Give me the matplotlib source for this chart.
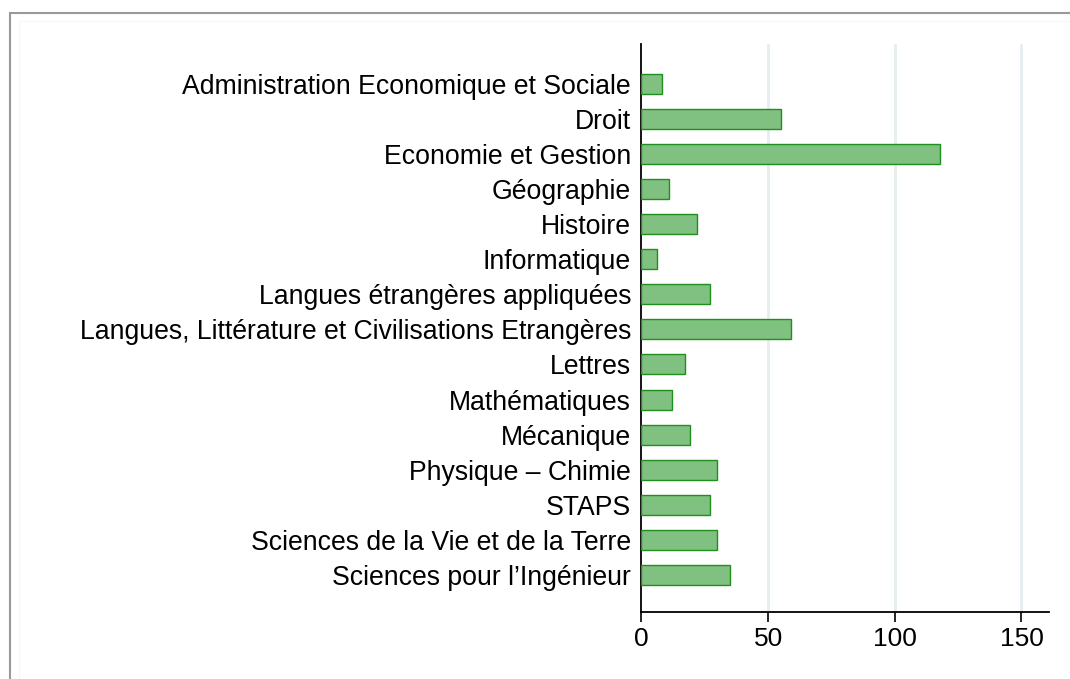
import matplotlib.pyplot as plt
from matplotlib.patches import Rectangle

plt.rcParams['font.family'] = ['Liberation Sans', 'DejaVu Sans']

filieres = [
    "Administration Economique et Sociale",
    "Droit",
    "Economie et Gestion",
    "Géographie",
    "Histoire",
    "Informatique",
    "Langues étrangères appliquées",
    "Langues, Littérature et Civilisations Etrangères",
    "Lettres",
    "Mathématiques",
    "Mécanique",
    "Physique – Chimie",
    "STAPS",
    "Sciences de la Vie et de la Terre",
    "Sciences pour l’Ingénieur",
]
effectifs = [8, 55, 118, 11, 22, 6, 27, 59, 17, 12, 19, 30, 27, 30, 35]
ticks = [0, 50, 100, 150]

fig = plt.figure(figsize=(10.7, 6.79), dpi=100)
ax = fig.add_axes([0.5995, 0.0987, 0.3805, 0.8365])

# cadre gris autour de la figure + liseré très clair
fig.patches.append(Rectangle((10 / 1070, -0.01), 1.1, (679 - 13) / 679 + 0.01,
                             transform=fig.transFigure, fill=False,
                             edgecolor='#999999', linewidth=1.5))
fig.patches.append(Rectangle((19 / 1070, -0.01), 1.1, (679 - 21) / 679 + 0.01,
                             transform=fig.transFigure, fill=False,
                             edgecolor='#f8f8f8', linewidth=1.0))

pos = list(range(len(filieres)))
ax.barh(pos, effectifs, height=0.57, color='#80c080', edgecolor='#1f8f1f',
        linewidth=1.0, zorder=3)

ax.set_yticks(pos)
ax.set_yticklabels(filieres, fontsize=19.2)
ax.set_ylim(len(filieres) - 1 + 1.06, -1.14)
ax.set_xlim(0, 160.7)
ax.set_xticks(ticks)
ax.set_xticklabels([str(t) for t in ticks], fontsize=19)

ax.tick_params(axis='y', length=0, pad=7.5)
ax.tick_params(axis='x', length=7.2, width=1.2, pad=3.5, direction='out')

for t in ticks[1:]:
    ax.axvline(t, color='#e6eef0', linewidth=2, zorder=1)

ax.spines['top'].set_visible(False)
ax.spines['right'].set_visible(False)
ax.spines['left'].set_linewidth(1.3)
ax.spines['bottom'].set_linewidth(1.3)

fig.savefig('out.png', dpi=100)
